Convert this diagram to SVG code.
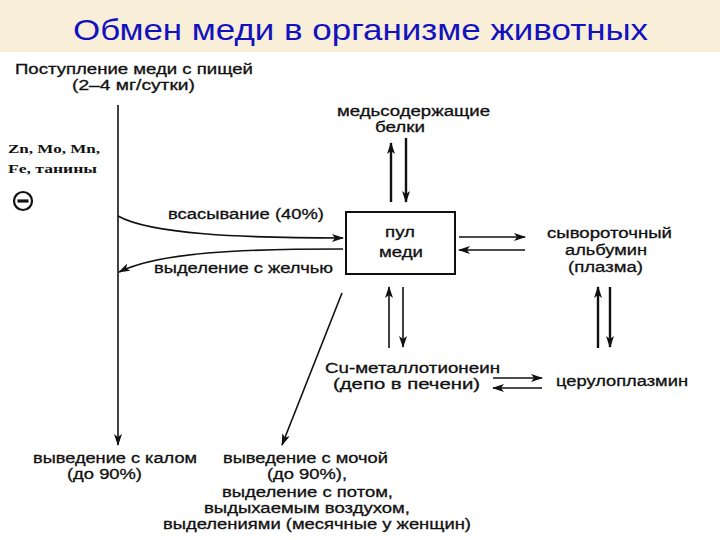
<svg xmlns="http://www.w3.org/2000/svg" width="720" height="540" viewBox="0 0 720 540">
<style>
.t{font-family:"Liberation Sans",Arial,sans-serif;font-size:14px;fill:#111;stroke:#111;stroke-width:0.3}
.s{font-family:"Liberation Serif","Times New Roman",serif;font-size:13.5px;font-weight:bold;fill:#111}
.ttl{font-family:"Liberation Sans",Arial,sans-serif;font-size:30px;fill:#1212bf}
.ln{fill:none;stroke:#111;stroke-width:1.6}
.th{fill:none;stroke:#111;stroke-width:2.4}
</style>
<defs>
<marker id="ah" viewBox="0 0 12 8" refX="11" refY="4" markerWidth="12" markerHeight="8" markerUnits="userSpaceOnUse" orient="auto">
<path d="M0,0 L12,4 L0,8 L3,4 Z" fill="#111"/>
</marker>
</defs>
<rect x="0" y="0" width="720" height="540" fill="#fff"/>
<rect x="0" y="0" width="720" height="52" fill="#f9eed8"/>
<text class="ttl" x="73" y="40" textLength="575" lengthAdjust="spacingAndGlyphs">Обмен меди в организме животных</text>

<g id="food">
<text class="t" x="15" y="74" textLength="238" lengthAdjust="spacingAndGlyphs">Поступление меди с пищей</text>
<text class="t" x="72" y="90" textLength="123" lengthAdjust="spacingAndGlyphs">(2–4 мг/сутки)</text>
</g>
<g id="inhibitors">
<text class="s" x="8" y="153" textLength="92" lengthAdjust="spacingAndGlyphs">Zn, Mo, Mn,</text>
<text class="s" x="8" y="173" textLength="89" lengthAdjust="spacingAndGlyphs">Fe, танины</text>
<circle cx="23" cy="201" r="9" fill="none" stroke="#111" stroke-width="2.2"/>
<line x1="17.5" y1="201" x2="28.5" y2="201" stroke="#111" stroke-width="3.2"/>
</g>
<g id="pool">
<rect x="346" y="212" width="109" height="62" fill="#fff" stroke="#111" stroke-width="2"/>
<text class="t" x="385" y="237" textLength="30" lengthAdjust="spacingAndGlyphs">пул</text>
<text class="t" x="379" y="257" textLength="44" lengthAdjust="spacingAndGlyphs">меди</text>
</g>
<g id="proteins">
<text class="t" x="337" y="116" textLength="153" lengthAdjust="spacingAndGlyphs">медьсодержащие</text>
<text class="t" x="375" y="132" textLength="50" lengthAdjust="spacingAndGlyphs">белки</text>
</g>
<g id="albumin">
<text class="t" x="547" y="238" textLength="125" lengthAdjust="spacingAndGlyphs">сывороточный</text>
<text class="t" x="565" y="255" textLength="82" lengthAdjust="spacingAndGlyphs">альбумин</text>
<text class="t" x="568" y="272" textLength="75" lengthAdjust="spacingAndGlyphs">(плазма)</text>
</g>
<g id="metallothionein">
<text class="t" x="325" y="373" textLength="175" lengthAdjust="spacingAndGlyphs">Cu-металлотионеин</text>
<text class="t" x="333" y="389" textLength="147" lengthAdjust="spacingAndGlyphs">(депо в печени)</text>
</g>
<g id="ceruloplasmin">
<text class="t" x="556" y="386" textLength="132" lengthAdjust="spacingAndGlyphs">церулоплазмин</text>
</g>
<g id="feces">
<text class="t" x="33" y="463" textLength="164" lengthAdjust="spacingAndGlyphs">выведение с калом</text>
<text class="t" x="67" y="479" textLength="75" lengthAdjust="spacingAndGlyphs">(до 90%)</text>
</g>
<g id="urine">
<text class="t" x="223" y="463" textLength="165" lengthAdjust="spacingAndGlyphs">выведение с мочой</text>
<text class="t" x="267" y="479" textLength="80" lengthAdjust="spacingAndGlyphs">(до 90%),</text>
<text class="t" x="222" y="497" textLength="171" lengthAdjust="spacingAndGlyphs">выделение с потом,</text>
<text class="t" x="204" y="513" textLength="206" lengthAdjust="spacingAndGlyphs">выдыхаемым воздухом,</text>
<text class="t" x="163" y="529" textLength="308" lengthAdjust="spacingAndGlyphs">выделениями (месячные у женщин)</text>
</g>

<g id="connectors">
<line class="ln" x1="118" y1="105" x2="118" y2="445" marker-end="url(#ah)"/>
<path class="ln" d="M118,216 C150,234 240,238 343,238" marker-end="url(#ah)"/>
<path class="ln" d="M343,249 C240,249 160,252 119,272" marker-end="url(#ah)"/>
<text class="t" x="168" y="219" textLength="156" lengthAdjust="spacingAndGlyphs">всасывание (40%)</text>
<text class="t" x="154" y="273" textLength="179" lengthAdjust="spacingAndGlyphs">выделение с желчью</text>
<line class="th" x1="391" y1="202" x2="391" y2="143" marker-end="url(#ah)"/>
<line class="th" x1="406" y1="138" x2="406" y2="202" marker-end="url(#ah)"/>
<line class="ln" x1="459" y1="237" x2="525" y2="237" marker-end="url(#ah)"/>
<line class="ln" x1="525" y1="250" x2="459" y2="250" marker-end="url(#ah)"/>
<line class="ln" x1="389" y1="348" x2="389" y2="287" marker-end="url(#ah)"/>
<line class="ln" x1="403" y1="287" x2="403" y2="347" marker-end="url(#ah)"/>
<line class="th" x1="598" y1="348" x2="598" y2="287" marker-end="url(#ah)"/>
<line class="th" x1="610" y1="287" x2="610" y2="347" marker-end="url(#ah)"/>
<line class="ln" x1="493" y1="378" x2="542" y2="378" marker-end="url(#ah)"/>
<line class="ln" x1="542" y1="388" x2="493" y2="388" marker-end="url(#ah)"/>
<line class="ln" x1="342" y1="293" x2="282" y2="445" marker-end="url(#ah)"/>
</g>
</svg>
